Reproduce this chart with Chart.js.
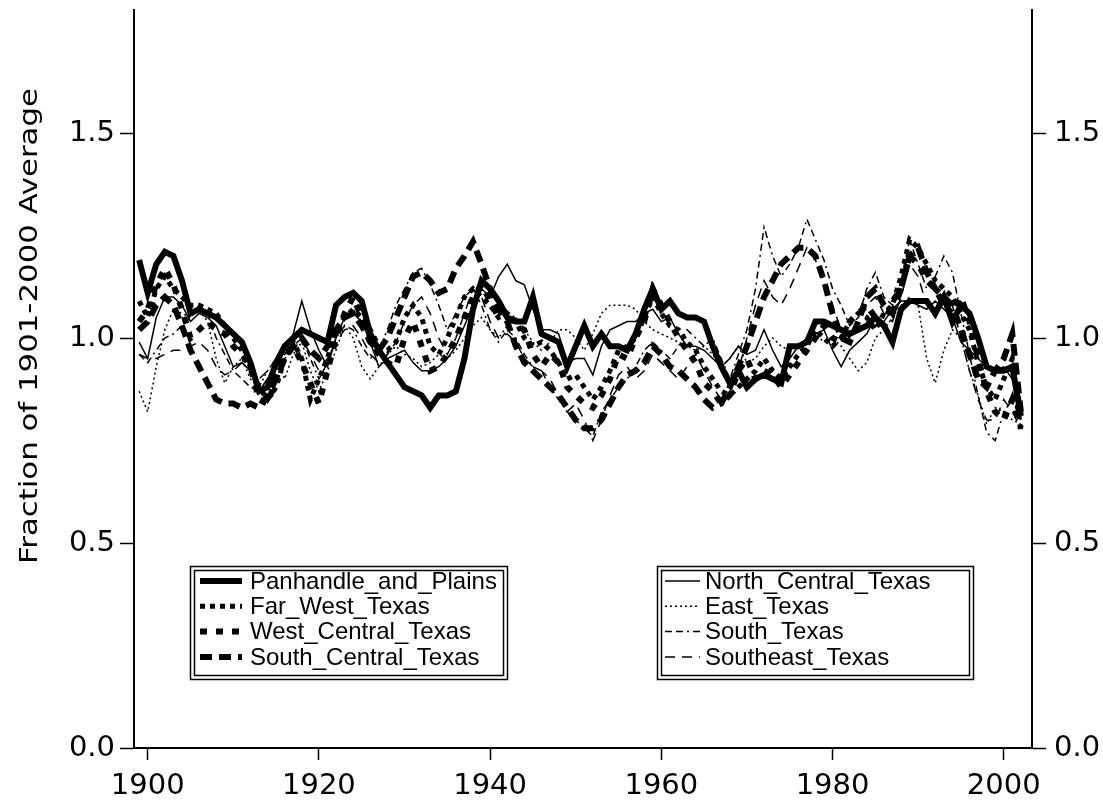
<!DOCTYPE html>
<html><head><meta charset="utf-8">
<script src="https://cdn.jsdelivr.net/npm/chart.js@4"></script>
<style>html,body{margin:0;padding:0;background:#fff}#wrap{width:1103px;height:808px;position:relative}</style>
</head><body><div id="wrap"><canvas id="c"></canvas></div>
<script>
const years = [1899,1900,1901,1902,1903,1904,1905,1906,1907,1908,1909,1910,1911,1912,1913,1914,1915,1916,1917,1918,1919,1920,1921,1922,1923,1924,1925,1926,1927,1928,1929,1930,1931,1932,1933,1934,1935,1936,1937,1938,1939,1940,1941,1942,1943,1944,1945,1946,1947,1948,1949,1950,1951,1952,1953,1954,1955,1956,1957,1958,1959,1960,1961,1962,1963,1964,1965,1966,1967,1968,1969,1970,1971,1972,1973,1974,1975,1976,1977,1978,1979,1980,1981,1982,1983,1984,1985,1986,1987,1988,1989,1990,1991,1992,1993,1994,1995,1996,1997,1998,1999,2000,2001,2002];

const panhandleAndPlains = [1.19,1.11,1.18,1.21,1.20,1.14,1.06,1.07,1.06,1.05,1.03,1.01,0.99,0.94,0.87,0.88,0.94,0.98,1.00,1.02,1.01,1.00,0.99,1.08,1.10,1.11,1.09,1.01,0.97,0.94,0.91,0.88,0.87,0.86,0.83,0.86,0.86,0.87,0.95,1.07,1.14,1.12,1.09,1.05,1.04,1.04,1.10,1.01,1.00,0.99,0.93,0.98,1.03,0.98,1.01,0.98,0.98,0.97,1.01,1.07,1.12,1.07,1.09,1.06,1.05,1.05,1.04,0.98,0.93,0.89,0.92,0.88,0.90,0.91,0.90,0.89,0.98,0.98,0.99,1.04,1.04,1.03,1.02,1.01,1.02,1.03,1.05,1.03,0.99,1.07,1.09,1.09,1.09,1.06,1.10,1.04,1.08,1.06,1.00,0.93,0.92,0.92,0.93,0.81];
const farWestTexas = [1.09,1.05,1.12,1.15,1.12,1.10,1.08,1.08,1.07,1.06,1.03,1.00,0.97,0.93,0.88,0.85,0.88,0.95,0.99,0.95,0.85,0.90,0.95,1.02,1.05,1.07,1.05,1.02,0.98,0.97,0.99,1.05,1.08,1.05,0.98,0.96,1.00,1.05,1.10,1.12,1.10,1.08,1.05,1.06,1.04,1.00,0.98,0.99,0.97,0.94,0.90,0.91,0.88,0.85,0.88,0.92,0.97,0.98,1.00,1.05,1.10,1.06,1.03,1.02,0.99,0.97,0.93,0.90,0.87,0.86,0.88,0.90,0.92,0.95,0.92,0.90,0.93,0.96,0.98,1.02,1.00,0.98,1.00,1.04,1.06,1.05,1.02,1.06,1.08,1.15,1.24,1.22,1.18,1.14,1.12,1.10,1.06,1.02,0.94,0.88,0.85,0.90,0.95,0.77];
const westCentralTexas = [1.04,1.07,1.13,1.17,1.13,1.07,1.00,1.02,1.04,1.02,1.01,0.98,0.96,0.93,0.85,0.84,0.90,0.96,0.98,0.94,0.89,0.84,0.92,1.00,1.06,1.10,1.05,1.00,0.96,0.94,0.93,1.00,1.04,0.98,0.92,0.93,0.96,1.00,1.05,1.10,1.13,1.09,1.05,1.07,1.03,1.02,0.96,0.93,0.96,0.94,0.88,0.86,0.84,0.83,0.86,0.90,0.96,0.95,1.00,1.04,1.12,1.08,1.04,1.00,0.97,0.94,0.89,0.87,0.84,0.86,0.92,0.95,0.90,0.92,0.91,0.88,0.91,0.94,0.97,1.00,1.03,1.00,0.99,1.04,1.06,1.08,1.05,1.03,1.09,1.12,1.20,1.18,1.14,1.12,1.08,1.06,1.10,1.04,0.95,0.87,0.82,0.80,0.85,0.78];
const southCentralTexas = [1.02,1.04,1.08,1.10,1.08,1.03,0.97,0.93,0.89,0.85,0.84,0.84,0.83,0.84,0.83,0.86,0.90,0.95,0.98,1.00,0.97,0.95,0.98,1.02,1.05,1.06,1.03,0.99,0.97,1.00,1.05,1.10,1.15,1.16,1.14,1.11,1.12,1.17,1.20,1.235,1.18,1.12,1.07,1.04,0.98,0.94,0.92,0.90,0.88,0.86,0.83,0.80,0.78,0.78,0.80,0.84,0.88,0.91,0.92,0.94,0.98,0.96,0.93,0.92,0.90,0.88,0.85,0.83,0.84,0.88,0.93,0.98,1.04,1.10,1.14,1.18,1.20,1.22,1.22,1.20,1.14,1.06,1.00,0.99,1.04,1.10,1.12,1.08,1.06,1.12,1.20,1.22,1.16,1.12,1.10,1.08,1.02,0.96,0.90,0.88,0.92,0.95,1.01,0.82];
const northCentralTexas = [0.99,0.95,1.05,1.10,1.10,1.08,1.04,1.06,1.05,1.03,0.98,0.93,0.94,0.92,0.87,0.90,0.94,0.97,1.01,1.09,1.02,0.97,0.93,1.00,1.05,1.06,1.04,0.99,0.93,0.95,0.96,0.97,0.94,0.92,0.92,0.93,0.95,0.98,1.03,1.08,1.12,1.10,1.15,1.18,1.14,1.13,1.07,1.02,1.02,1.01,0.94,0.95,0.95,0.91,0.98,1.02,1.03,1.04,1.04,1.06,1.07,1.04,1.05,1.01,0.98,0.98,0.97,0.95,0.93,0.95,0.98,0.96,0.97,1.02,0.97,0.93,0.95,0.98,1.00,1.01,1.02,0.97,0.93,0.97,0.99,1.01,1.05,1.04,1.07,1.09,1.09,1.08,1.07,1.09,1.07,1.05,0.99,0.97,0.95,0.93,0.92,0.93,0.90,0.85];
const eastTexas = [0.87,0.82,0.93,1.02,1.07,1.06,1.05,1.07,1.04,0.95,0.89,0.93,0.95,0.90,0.88,0.92,0.95,0.90,0.96,0.99,0.92,0.87,0.92,0.97,1.03,1.00,0.93,0.90,0.93,0.96,0.98,0.96,0.95,0.93,0.94,0.96,0.95,0.97,1.00,1.03,1.05,1.02,1.00,1.03,1.05,1.02,0.99,0.97,0.99,1.02,1.02,1.00,0.97,1.01,1.06,1.08,1.08,1.08,1.07,1.04,1.02,1.01,1.00,0.99,0.98,0.97,0.98,0.96,0.93,0.95,0.98,0.94,0.95,0.98,1.00,0.98,0.97,0.98,1.00,1.01,0.99,1.00,0.98,0.95,0.92,0.94,1.00,1.02,1.05,1.08,1.10,1.08,0.95,0.89,0.97,1.02,1.00,0.92,0.86,0.79,0.83,0.82,0.80,0.79];
const southTexas = [0.96,0.94,0.97,1.00,1.01,1.03,1.05,1.08,1.06,1.00,0.96,0.92,0.90,0.88,0.87,0.90,0.93,0.95,0.97,1.00,0.95,0.90,0.94,1.00,1.03,1.02,0.98,0.95,0.97,1.02,1.08,1.12,1.16,1.17,1.13,1.08,1.02,1.06,1.10,1.12,1.08,1.02,0.99,1.02,1.00,0.96,0.93,0.92,0.88,0.85,0.82,0.80,0.78,0.76,0.82,0.85,0.88,0.90,0.93,0.97,0.99,0.97,0.95,0.98,1.02,1.00,0.98,1.00,0.95,0.90,0.96,1.02,1.12,1.27,1.20,1.15,1.18,1.22,1.29,1.24,1.19,1.12,1.08,1.03,1.05,1.12,1.16,1.10,1.08,1.14,1.24,1.18,1.12,1.15,1.20,1.16,1.06,0.96,0.86,0.77,0.75,0.82,0.85,0.80];
const southeastTexas = [0.96,0.95,0.95,0.96,0.97,0.97,0.98,0.99,0.97,0.93,0.91,0.92,0.94,0.92,0.90,0.92,0.95,0.96,0.98,1.00,0.96,0.92,0.95,0.99,1.02,1.03,1.00,0.96,0.94,0.96,0.99,1.04,1.08,1.10,1.06,1.00,0.96,1.00,1.06,1.12,1.10,1.04,1.00,1.01,0.99,0.95,0.93,0.92,0.90,0.86,0.82,0.84,0.80,0.75,0.80,0.86,0.91,0.93,0.90,0.92,0.96,0.94,0.92,0.90,0.93,0.96,0.92,0.88,0.85,0.87,0.92,1.00,1.08,1.14,1.10,1.08,1.12,1.17,1.22,1.19,1.14,1.08,1.02,1.00,1.04,1.08,1.10,1.06,1.04,1.10,1.18,1.15,1.08,1.05,1.10,1.08,1.00,0.92,0.85,0.80,0.80,0.85,0.82,0.78];

const seriesNames = ["Panhandle_and_Plains","Far_West_Texas","West_Central_Texas","South_Central_Texas","North_Central_Texas","East_Texas","South_Texas","Southeast_Texas"];
const seriesValues = [panhandleAndPlains,farWestTexas,westCentralTexas,southCentralTexas,northCentralTexas,eastTexas,southTexas,southeastTexas];
const yTicks = [0, 0.5, 1.0, 1.5];
const xTicks = [1900, 1920, 1940, 1960, 1980, 2000];
const yTitle = "Fraction of 1901-2000 Average";

const styles = [
  {w:6, dash:[]},
  {w:5, dash:[5,5]},
  {w:6, dash:[7,9]},
  {w:6, dash:[12,7]},
  {w:1.5, dash:[]},
  {w:1.5, dash:[2,3]},
  {w:1.5, dash:[7,4,7,4,2,4]},
  {w:1.5, dash:[10,7]}
];

const datasets = seriesNames.map((name,k)=>({
  label:name,
  data: years.map((x,i)=>({x:x, y:seriesValues[k][i]})),
  borderColor:'#000',
  backgroundColor:'#000',
  borderWidth:styles[k].w,
  borderDash:styles[k].dash,
  borderCapStyle:'butt',
  borderJoinStyle:'miter',
  pointRadius:0,
  tension:0,
  fill:false,
  order: 8-k
}));

const boxLegend = {
  id:'boxLegend',
  afterDraw(chart){
    const ctx = chart.ctx;
    ctx.save();
    ctx.fillStyle='#000';
    ctx.font='24px "Liberation Sans Narrow", "DejaVu Sans Condensed", sans-serif';
    ctx.translate(31, 326);
    ctx.rotate(-Math.PI/2);
    ctx.textAlign='center';
    ctx.textBaseline='middle';
    const tw = ctx.measureText(yTitle).width;
    ctx.scale(476/tw, 1);
    ctx.fillText(yTitle, 0, 0);
    ctx.restore();

    const boxes = [
      {x:190, y:566, w:317, h:113, items:[0,1,2,3], sx:200, sw:42, tx:250},
      {x:657, y:566, w:316, h:113, items:[4,5,6,7], sx:665, sw:35, tx:705}
    ];
    boxes.forEach(b=>{
      ctx.save();
      ctx.fillStyle='#fff';
      ctx.fillRect(b.x, b.y, b.w, b.h);
      ctx.strokeStyle='#000';
      ctx.lineWidth=1.5;
      ctx.setLineDash([]);
      ctx.strokeRect(b.x+0.5, b.y+0.5, b.w, b.h);
      ctx.strokeRect(b.x+4.5, b.y+4.5, b.w-8, b.h-8);
      ctx.font='24px "Liberation Sans", Arial, sans-serif';
      ctx.textBaseline='middle';
      ctx.fillStyle='#000';
      b.items.forEach((k,j)=>{
        const cy = b.y + 15 + j*25.3;
        const ds = chart.data.datasets[k];
        ctx.beginPath();
        ctx.lineWidth = ds.borderWidth;
        ctx.setLineDash(ds.borderDash);
        ctx.lineCap='butt';
        ctx.moveTo(b.sx, cy);
        ctx.lineTo(b.sx+b.sw, cy);
        ctx.stroke();
        ctx.setLineDash([]);
        ctx.fillText(ds.label, b.tx, cy+1);
      });
      ctx.restore();
    });
  }
};

const tickFont = {family:'"DejaVu Sans", sans-serif', size:29};
const noVPad = (w)=>(s)=>{s.width=w; s.paddingTop=0; s.paddingBottom=0;};

new Chart(document.getElementById('c'), {
  type:'line',
  data:{datasets},
  options:{
    responsive:true,
    maintainAspectRatio:false,
    animation:false,
    devicePixelRatio:1,
    layout:{padding:{top:10, left:0, right:0, bottom:0}},
    plugins:{legend:{display:false}, tooltip:{enabled:false}},
    scales:{
      x:{
        type:'linear', min:1898.4, max:2003.3,
        afterBuildTicks:(s)=>{s.ticks = xTicks.map(v=>({value:v}));},
        afterFit:(s)=>{s.height=60; s.paddingLeft=0; s.paddingRight=0;},
        grid:{drawOnChartArea:false, drawTicks:true, tickLength:12, tickWidth:1.5, tickColor:'#000'},
        border:{display:true, color:'#000', width:2},
        ticks:{color:'#000', font:tickFont, padding:9, maxRotation:0, autoSkip:false, callback:(v)=>String(v)}
      },
      y:{
        type:'linear', position:'left', min:0, max:1.8,
        afterBuildTicks:(s)=>{s.ticks = yTicks.map(v=>({value:v}));},
        afterFit:noVPad(134),
        grid:{drawOnChartArea:false, drawTicks:true, tickLength:14, tickWidth:1.5, tickColor:'#000'},
        border:{display:true, color:'#000', width:2},
        ticks:{color:'#000', font:tickFont, padding:5, callback:(v)=>v.toFixed(1)}
      },
      y2:{
        type:'linear', position:'right', min:0, max:1.8,
        afterBuildTicks:(s)=>{s.ticks = yTicks.map(v=>({value:v}));},
        afterFit:noVPad(71),
        grid:{drawOnChartArea:false, drawTicks:true, tickLength:14, tickWidth:1.5, tickColor:'#000'},
        border:{display:true, color:'#000', width:2},
        ticks:{color:'#000', font:tickFont, padding:8, callback:(v)=>v.toFixed(1)}
      }
    }
  },
  plugins:[boxLegend]
});
</script></body></html>
